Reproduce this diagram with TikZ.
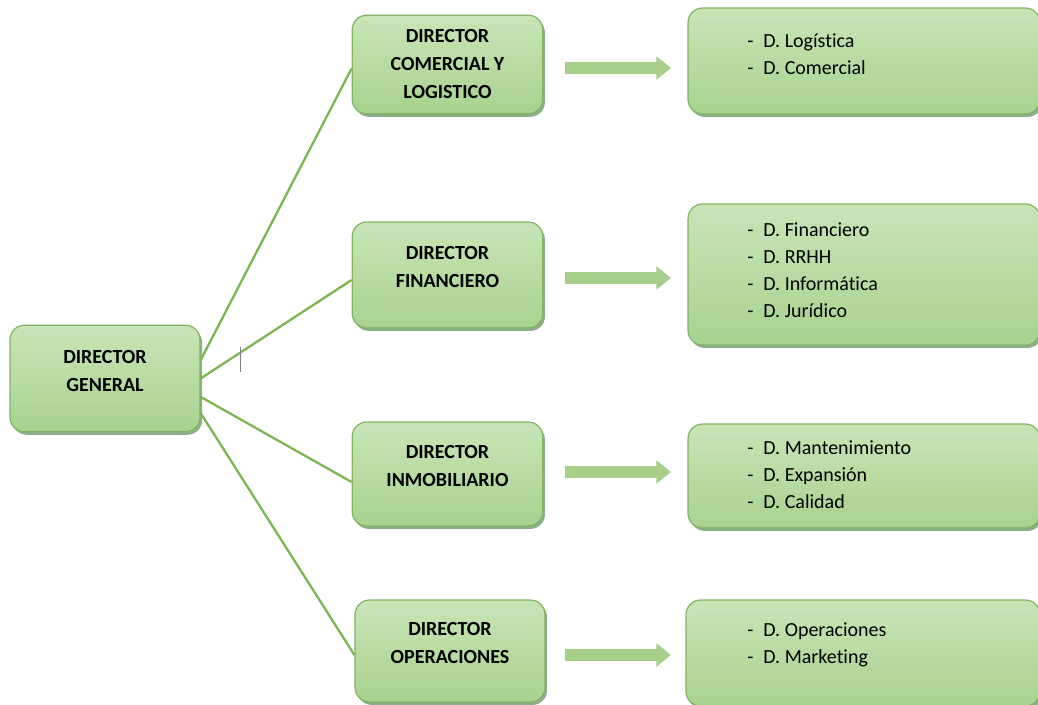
\documentclass[tikz,border=0pt]{standalone}
\usepackage{fontspec}
\setmainfont[Ligatures={NoCommon,NoContextual},Contextuals=NoAlternate]{Carlito}
\usetikzlibrary{shadows,arrows.meta,calc}
\definecolor{boxtop}{RGB}{200,229,183}
\definecolor{boxbot}{RGB}{168,210,143}
\definecolor{boxedge}{RGB}{128,180,98}
\definecolor{linkgreen}{RGB}{122,181,78}
\definecolor{arrowgreen}{RGB}{166,207,140}
\tikzset{
  box/.style={rectangle, rounded corners=11pt, top color=boxtop, bottom color=boxbot,
    draw=boxedge, line width=0.9pt,
    drop shadow={opacity=0.45, shadow xshift=1.6pt, shadow yshift=-2.2pt, fill=black!70!green},
    inner sep=0pt},
  dirbox/.style={box, align=center, font=\fontsize{15}{21}\selectfont\bfseries},
  raised/.style={text depth=12pt},
  listtext/.style={anchor=west, align=left, inner sep=0pt, font=\fontsize{15}{20.3}\selectfont},
  link/.style={draw=linkgreen, line width=1.7pt},
  bigarrow/.style={draw=arrowgreen, line width=9pt, -{Triangle[length=11pt, width=17pt]}, arrowgreen}
}
\newcommand{\dd}{-\hspace{0.5em}}
\begin{document}
\begin{tikzpicture}[x=0.75pt, y=-0.75pt]
\useasboundingbox (0,0) rectangle (1038,704);
% left
\node[dirbox, raised, minimum width=142.5pt, minimum height=80pt] (dg) at (105,378.5) {DIRECTOR\\GENERAL};
% middle
\node[dirbox, minimum width=143pt, minimum height=74pt] (dc) at (447.5,64.5) {DIRECTOR\\COMERCIAL Y\\LOGISTICO};
\node[dirbox, raised, minimum width=143pt, minimum height=79.5pt] (df) at (447.5,275) {DIRECTOR\\FINANCIERO};
\node[dirbox, raised, minimum width=143pt, minimum height=78pt] (di) at (447.5,474) {DIRECTOR\\INMOBILIARIO};
\node[dirbox, raised, minimum width=142.5pt, minimum height=76.5pt] (do) at (450,651) {DIRECTOR\\OPERACIONES};
% right boxes
\node[box, minimum width=264pt, minimum height=79.5pt] (r1) at (864,61) {};
\node[box, minimum width=264pt, minimum height=105.75pt] (r2) at (864,274.5) {};
\node[box, minimum width=264pt, minimum height=78pt] (r3) at (864,476) {};
\node[box, minimum width=265.5pt, minimum height=79.5pt] (r4) at (863,653) {};
% list texts
\node[listtext] (t1) at (747,54) {\dd D. Logística\\\dd D. Comercial};
\node[listtext] (t2) at (747,270.5) {\dd D. Financiero\\\dd D. RRHH\\\dd D. Informática\\\dd D. Jurídico};
\node[listtext] (t3) at (747,475) {\dd D. Mantenimiento\\\dd D. Expansión\\\dd D. Calidad};
\node[listtext] (t4) at (747,645) {\dd D. Operaciones\\\dd D. Marketing};
% links from director general
\coordinate (s1) at ($(dg.north east)!0.33!(dg.south east)$);
\coordinate (s2) at ($(dg.north east)!0.50!(dg.south east)$);
\coordinate (s3) at ($(dg.north east)!0.67!(dg.south east)$);
\coordinate (s4) at ($(dg.north east)!0.82!(dg.south east)$);
\coordinate (e1) at ($(dc.west)+(0,4)$);
\coordinate (e2) at ($(df.west)+(0,5)$);
\coordinate (e3) at ($(di.west)+(0,8)$);
\coordinate (e4) at ($(do.west)+(0,4)$);
\draw[link] (s1) -- (e1);
\draw[link] (s2) -- (e2);
\draw[link] (s3) -- (e3);
\draw[link] (s4) -- (e4);
% block arrows
\coordinate (a1s) at (565,68);  \coordinate (a1e) at (671,68);
\coordinate (a2s) at (565,278); \coordinate (a2e) at (671,278);
\coordinate (a3s) at (565,472); \coordinate (a3e) at (671,472);
\coordinate (a4s) at (565,655); \coordinate (a4e) at (671,655);
\draw[bigarrow] (a1s) -- (a1e);
\draw[bigarrow] (a2s) -- (a2e);
\draw[bigarrow] (a3s) -- (a3e);
\draw[bigarrow] (a4s) -- (a4e);
% text cursor mark
\coordinate (c1) at (240,347); \coordinate (c2) at (240,372);
\draw[gray, line width=0.6pt] (c1) -- (c2);
\end{tikzpicture}
\end{document}
